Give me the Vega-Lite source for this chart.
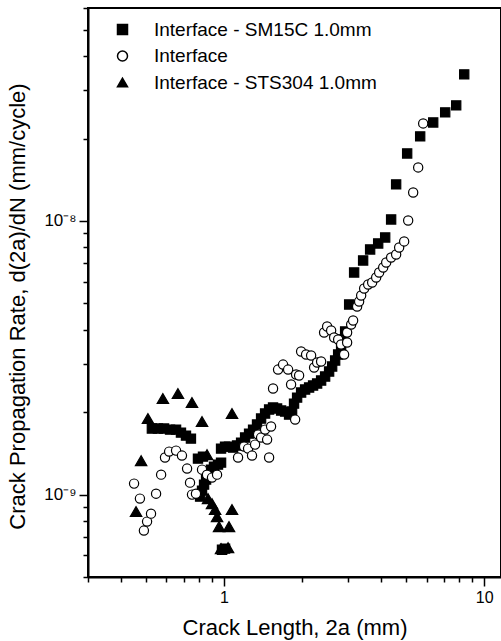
{
"$schema": "https://vega.github.io/schema/vega-lite/v6.json",
"width": 413, "height": 569,
"autosize": "none",
"padding": {"left": 88, "top": 8, "right": 0, "bottom": 64},
"background": "white",
"config": {"font": "Liberation Sans", "view": {"stroke": "black", "strokeWidth": 2}},
"data": {"values": [
{"s":"Interface - SM15C 1.0mm","a":0.528,"r":1.743e-9},
{"s":"Interface - SM15C 1.0mm","a":0.557,"r":1.743e-9},
{"s":"Interface - SM15C 1.0mm","a":0.588,"r":1.743e-9},
{"s":"Interface - SM15C 1.0mm","a":0.620,"r":1.728e-9},
{"s":"Interface - SM15C 1.0mm","a":0.654,"r":1.728e-9},
{"s":"Interface - SM15C 1.0mm","a":0.683,"r":1.685e-9},
{"s":"Interface - SM15C 1.0mm","a":0.714,"r":1.643e-9},
{"s":"Interface - SM15C 1.0mm","a":0.746,"r":1.602e-9},
{"s":"Interface - SM15C 1.0mm","a":0.794,"r":1.354e-9},
{"s":"Interface - SM15C 1.0mm","a":0.830,"r":1.377e-9},
{"s":"Interface - SM15C 1.0mm","a":0.809,"r":0.983e-9},
{"s":"Interface - SM15C 1.0mm","a":0.823,"r":1.034e-9},
{"s":"Interface - SM15C 1.0mm","a":0.838,"r":1.088e-9},
{"s":"Interface - SM15C 1.0mm","a":0.853,"r":1.135e-9},
{"s":"Interface - SM15C 1.0mm","a":0.868,"r":1.193e-9},
{"s":"Interface - SM15C 1.0mm","a":0.891,"r":1.234e-9},
{"s":"Interface - SM15C 1.0mm","a":0.915,"r":1.266e-9},
{"s":"Interface - SM15C 1.0mm","a":0.948,"r":1.287e-9},
{"s":"Interface - SM15C 1.0mm","a":0.974,"r":1.309e-9},
{"s":"Interface - SM15C 1.0mm","a":0.982,"r":0.629e-9},
{"s":"Interface - SM15C 1.0mm","a":1.009,"r":0.635e-9},
{"s":"Interface - SM15C 1.0mm","a":0.974,"r":1.473e-9},
{"s":"Interface - SM15C 1.0mm","a":1.009,"r":1.498e-9},
{"s":"Interface - SM15C 1.0mm","a":1.045,"r":1.498e-9},
{"s":"Interface - SM15C 1.0mm","a":1.083,"r":1.485e-9},
{"s":"Interface - SM15C 1.0mm","a":1.122,"r":1.511e-9},
{"s":"Interface - SM15C 1.0mm","a":1.163,"r":1.549e-9},
{"s":"Interface - SM15C 1.0mm","a":1.205,"r":1.616e-9},
{"s":"Interface - SM15C 1.0mm","a":1.248,"r":1.671e-9},
{"s":"Interface - SM15C 1.0mm","a":1.293,"r":1.728e-9},
{"s":"Interface - SM15C 1.0mm","a":1.339,"r":1.803e-9},
{"s":"Interface - SM15C 1.0mm","a":1.388,"r":1.896e-9},
{"s":"Interface - SM15C 1.0mm","a":1.438,"r":1.978e-9},
{"s":"Interface - SM15C 1.0mm","a":1.490,"r":2.046e-9},
{"s":"Interface - SM15C 1.0mm","a":1.543,"r":2.080e-9},
{"s":"Interface - SM15C 1.0mm","a":1.599,"r":2.063e-9},
{"s":"Interface - SM15C 1.0mm","a":1.657,"r":2.028e-9},
{"s":"Interface - SM15C 1.0mm","a":1.717,"r":2.011e-9},
{"s":"Interface - SM15C 1.0mm","a":1.778,"r":1.961e-9},
{"s":"Interface - SM15C 1.0mm","a":1.826,"r":2.011e-9},
{"s":"Interface - SM15C 1.0mm","a":1.858,"r":2.151e-9},
{"s":"Interface - SM15C 1.0mm","a":1.909,"r":2.262e-9},
{"s":"Interface - SM15C 1.0mm","a":1.978,"r":2.360e-9},
{"s":"Interface - SM15C 1.0mm","a":2.049,"r":2.421e-9},
{"s":"Interface - SM15C 1.0mm","a":2.123,"r":2.462e-9},
{"s":"Interface - SM15C 1.0mm","a":2.199,"r":2.503e-9},
{"s":"Interface - SM15C 1.0mm","a":2.279,"r":2.546e-9},
{"s":"Interface - SM15C 1.0mm","a":2.361,"r":2.611e-9},
{"s":"Interface - SM15C 1.0mm","a":2.446,"r":2.701e-9},
{"s":"Interface - SM15C 1.0mm","a":2.534,"r":2.817e-9},
{"s":"Interface - SM15C 1.0mm","a":2.603,"r":2.938e-9},
{"s":"Interface - SM15C 1.0mm","a":2.673,"r":3.090e-9},
{"s":"Interface - SM15C 1.0mm","a":2.745,"r":3.250e-9},
{"s":"Interface - SM15C 1.0mm","a":2.818,"r":3.447e-9},
{"s":"Interface - SM15C 1.0mm","a":2.869,"r":3.688e-9},
{"s":"Interface - SM15C 1.0mm","a":2.920,"r":3.945e-9},
{"s":"Interface - SM15C 1.0mm","a":3.026,"r":4.951e-9},
{"s":"Interface - SM15C 1.0mm","a":3.162,"r":6.482e-9},
{"s":"Interface - SM15C 1.0mm","a":3.424,"r":7.171e-9},
{"s":"Interface - SM15C 1.0mm","a":3.643,"r":7.869e-9},
{"s":"Interface - SM15C 1.0mm","a":3.912,"r":8.276e-9},
{"s":"Interface - SM15C 1.0mm","a":4.162,"r":8.702e-9},
{"s":"Interface - SM15C 1.0mm","a":4.387,"r":10.13e-9},
{"s":"Interface - SM15C 1.0mm","a":4.586,"r":13.60e-9},
{"s":"Interface - SM15C 1.0mm","a":5.056,"r":17.65e-9},
{"s":"Interface - SM15C 1.0mm","a":5.673,"r":20.37e-9},
{"s":"Interface - SM15C 1.0mm","a":6.366,"r":22.91e-9},
{"s":"Interface - SM15C 1.0mm","a":7.079,"r":24.93e-9},
{"s":"Interface - SM15C 1.0mm","a":7.803,"r":26.44e-9},
{"s":"Interface - SM15C 1.0mm","a":8.377,"r":34.33e-9},
{"s":"Interface","a":0.451,"r":1.097e-9},
{"s":"Interface","a":0.475,"r":0.967e-9},
{"s":"Interface","a":0.492,"r":0.739e-9},
{"s":"Interface","a":0.506,"r":0.797e-9},
{"s":"Interface","a":0.524,"r":0.852e-9},
{"s":"Interface","a":0.548,"r":1.008e-9},
{"s":"Interface","a":0.573,"r":1.183e-9},
{"s":"Interface","a":0.593,"r":1.366e-9},
{"s":"Interface","a":0.615,"r":1.436e-9},
{"s":"Interface","a":0.654,"r":1.448e-9},
{"s":"Interface","a":0.689,"r":1.389e-9},
{"s":"Interface","a":0.721,"r":1.245e-9},
{"s":"Interface","a":0.740,"r":1.106e-9},
{"s":"Interface","a":0.753,"r":1.000e-9},
{"s":"Interface","a":0.780,"r":1.008e-9},
{"s":"Interface","a":0.823,"r":1.234e-9},
{"s":"Interface","a":0.860,"r":1.183e-9},
{"s":"Interface","a":0.899,"r":1.154e-9},
{"s":"Interface","a":0.940,"r":1.183e-9},
{"s":"Interface","a":1.132,"r":1.366e-9},
{"s":"Interface","a":1.194,"r":1.498e-9},
{"s":"Interface","a":1.237,"r":1.473e-9},
{"s":"Interface","a":1.281,"r":1.389e-9},
{"s":"Interface","a":1.316,"r":1.523e-9},
{"s":"Interface","a":1.351,"r":1.657e-9},
{"s":"Interface","a":1.388,"r":1.616e-9},
{"s":"Interface","a":1.438,"r":1.728e-9},
{"s":"Interface","a":1.464,"r":1.589e-9},
{"s":"Interface","a":1.490,"r":1.366e-9},
{"s":"Interface","a":1.516,"r":1.773e-9},
{"s":"Interface","a":1.543,"r":2.441e-9},
{"s":"Interface","a":1.613,"r":2.864e-9},
{"s":"Interface","a":1.686,"r":2.987e-9},
{"s":"Interface","a":1.763,"r":2.864e-9},
{"s":"Interface","a":1.810,"r":2.525e-9},
{"s":"Interface","a":1.876,"r":1.880e-9},
{"s":"Interface","a":1.892,"r":2.747e-9},
{"s":"Interface","a":1.943,"r":2.724e-9},
{"s":"Interface","a":1.978,"r":3.333e-9},
{"s":"Interface","a":2.067,"r":3.250e-9},
{"s":"Interface","a":2.161,"r":3.223e-9},
{"s":"Interface","a":2.219,"r":2.913e-9},
{"s":"Interface","a":2.279,"r":3.038e-9},
{"s":"Interface","a":2.361,"r":3.064e-9},
{"s":"Interface","a":2.424,"r":3.911e-9},
{"s":"Interface","a":2.490,"r":4.114e-9},
{"s":"Interface","a":2.580,"r":3.978e-9},
{"s":"Interface","a":2.649,"r":3.750e-9},
{"s":"Interface","a":2.745,"r":3.688e-9},
{"s":"Interface","a":2.818,"r":3.535e-9},
{"s":"Interface","a":2.894,"r":3.250e-9},
{"s":"Interface","a":2.972,"r":3.595e-9},
{"s":"Interface","a":2.972,"r":3.911e-9},
{"s":"Interface","a":3.080,"r":4.184e-9},
{"s":"Interface","a":3.134,"r":4.327e-9},
{"s":"Interface","a":3.247,"r":4.868e-9},
{"s":"Interface","a":3.305,"r":5.078e-9},
{"s":"Interface","a":3.365,"r":5.341e-9},
{"s":"Interface","a":3.455,"r":5.664e-9},
{"s":"Interface","a":3.580,"r":5.858e-9},
{"s":"Interface","a":3.709,"r":5.958e-9},
{"s":"Interface","a":3.843,"r":6.214e-9},
{"s":"Interface","a":3.946,"r":6.482e-9},
{"s":"Interface","a":4.089,"r":6.761e-9},
{"s":"Interface","a":4.200,"r":7.051e-9},
{"s":"Interface","a":4.387,"r":7.354e-9},
{"s":"Interface","a":4.586,"r":7.543e-9},
{"s":"Interface","a":4.710,"r":8.000e-9},
{"s":"Interface","a":4.923,"r":8.417e-9},
{"s":"Interface","a":5.101,"r":10.04e-9},
{"s":"Interface","a":5.332,"r":12.71e-9},
{"s":"Interface","a":5.574,"r":15.69e-9},
{"s":"Interface","a":5.826,"r":22.72e-9},
{"s":"Interface - STS304 1.0mm","a":0.459,"r":0.867e-9},
{"s":"Interface - STS304 1.0mm","a":0.480,"r":1.331e-9},
{"s":"Interface - STS304 1.0mm","a":0.510,"r":1.896e-9},
{"s":"Interface - STS304 1.0mm","a":0.582,"r":2.244e-9},
{"s":"Interface - STS304 1.0mm","a":0.665,"r":2.340e-9},
{"s":"Interface - STS304 1.0mm","a":0.753,"r":2.170e-9},
{"s":"Interface - STS304 1.0mm","a":0.823,"r":1.849e-9},
{"s":"Interface - STS304 1.0mm","a":0.860,"r":1.400e-9},
{"s":"Interface - STS304 1.0mm","a":0.868,"r":0.967e-9},
{"s":"Interface - STS304 1.0mm","a":0.899,"r":0.927e-9},
{"s":"Interface - STS304 1.0mm","a":0.924,"r":0.882e-9},
{"s":"Interface - STS304 1.0mm","a":0.940,"r":0.831e-9},
{"s":"Interface - STS304 1.0mm","a":0.957,"r":0.764e-9},
{"s":"Interface - STS304 1.0mm","a":1.045,"r":0.764e-9},
{"s":"Interface - STS304 1.0mm","a":1.073,"r":0.882e-9},
{"s":"Interface - STS304 1.0mm","a":1.073,"r":1.978e-9},
{"s":"Interface - STS304 1.0mm","a":0.974,"r":0.635e-9},
{"s":"Interface - STS304 1.0mm","a":1.036,"r":0.640e-9}
]},
"mark": {"type": "point", "stroke": "black", "strokeWidth": 1.2, "opacity": 1},
"encoding": {
"x": {"field": "a", "type": "quantitative",
  "scale": {"type": "log", "domain": [0.3, 11.6], "nice": false},
  "axis": {"title": "Crack Length, 2a (mm)", "titleFontSize": 22, "titleFontWeight": "normal", "titleColor": "black", "titlePadding": 12,
    "values": [0.3,0.4,0.5,0.6,0.7,0.8,0.9,1,2,3,4,5,6,7,8,9,10],
    "labelExpr": "datum.value == 1 ? '1' : datum.value == 10 ? '10' : ''",
    "labelFontSize": 16, "labelColor": "black", "labelPadding": 3, "labelOverlap": false, "labelFlush": false,
    "domainColor": "black", "domainWidth": 2, "tickColor": "black", "tickWidth": 1.5,
    "tickSize": {"condition": {"test": "datum.value == 1 || datum.value == 10", "value": 9}, "value": 5},
    "grid": false}},
"y": {"field": "r", "type": "quantitative",
  "scale": {"type": "log", "domain": [5e-10, 6e-8], "nice": false},
  "axis": {"title": "Crack Propagation Rate, d(2a)/dN (mm/cycle)", "titleFontSize": 22, "titleFontWeight": "normal", "titleColor": "black", "titlePadding": 14, "titleY": 298,
    "values": [5e-10,6e-10,7e-10,8e-10,9e-10,1e-9,2e-9,3e-9,4e-9,5e-9,6e-9,7e-9,8e-9,9e-9,1e-8,2e-8,3e-8,4e-8,5e-8,6e-8],
    "labelExpr": "datum.value == 1e-9 ? '10⁻⁹' : datum.value == 1e-8 ? '10⁻⁸' : ''",
    "labelFontSize": 17, "labelColor": "black", "labelPadding": 3, "labelOverlap": false, "labelFlush": false,
    "domainColor": "black", "domainWidth": 2, "tickColor": "black", "tickWidth": 1.5,
    "tickSize": {"condition": {"test": "datum.value == 1e-9 || datum.value == 1e-8", "value": 9}, "value": 5},
    "grid": false}},
"shape": {"field": "s", "type": "nominal",
  "scale": {"domain": ["Interface - SM15C 1.0mm", "Interface", "Interface - STS304 1.0mm"], "range": ["square", "circle", "triangle-up"]},
  "legend": {"title": null, "orient": "none", "legendX": 25, "legendY": 12, "padding": 0, "labelFontSize": 19, "labelColor": "black", "labelOffset": 22, "rowPadding": 6.5, "symbolSize": 100, "labelLimit": 400,
    "encode": {"symbols": {"update": {"stroke": {"value": "black"}, "strokeWidth": {"value": 1.2}}}}}},
"fill": {"field": "s", "type": "nominal",
  "scale": {"domain": ["Interface - SM15C 1.0mm", "Interface", "Interface - STS304 1.0mm"], "range": ["black", "white", "black"]},
  "legend": {"title": null, "orient": "none", "legendX": 25, "legendY": 12, "padding": 0, "labelFontSize": 19, "labelColor": "black", "labelOffset": 22, "rowPadding": 6.5, "symbolSize": 100, "labelLimit": 400,
    "encode": {"symbols": {"update": {"stroke": {"value": "black"}, "strokeWidth": {"value": 1.2}}}}}},
"size": {"condition": {"test": "datum.s == 'Interface - STS304 1.0mm'", "value": 130}, "value": 85}
}
}
